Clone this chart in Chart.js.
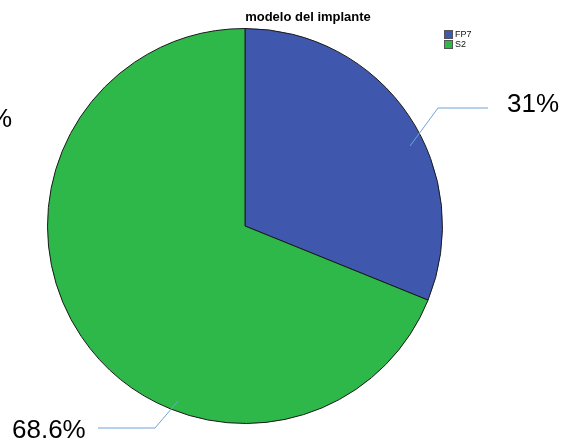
<!DOCTYPE html>
<html>
<head>
<meta charset="utf-8">
<script src="https://cdn.jsdelivr.net/npm/chart.js@4"></script>
<style>
  html, body { margin: 0; padding: 0; background: #fff; }
  #wrap { width: 563px; height: 443px; position: relative; }
</style>
</head>
<body>
<div id="wrap"><canvas id="pieCanvas"></canvas></div>
<script>
const categories = ['FP7', 'S2'];
const percents = [31, 68.6];
const labelTexts = ['31%', '68.6%'];
const sliceColors = ['#3F58AD', '#2EB84A'];

// titles, legend and leader lines drawn on top of the pie
const annotations = {
    id: 'annotations',
    afterDraw(chart) {
        const ctx = chart.ctx;
        const arcs = chart.getDatasetMeta(0).data;
        const cx = arcs[0].x;
        const cy = arcs[0].y;
        ctx.save();

        ctx.fillStyle = '#000';
        ctx.font = 'bold 13px "Liberation Sans", Arial, sans-serif';
        ctx.textAlign = 'center';
        ctx.textBaseline = 'middle';
        ctx.fillText('modelo del implante', 308, 17);

        // legend
        ctx.font = '9px "Liberation Sans", Arial, sans-serif';
        ctx.textAlign = 'left';
        categories.forEach((name, i) => {
            const y = 31 + i * 10;
            ctx.fillStyle = sliceColors[i];
            ctx.fillRect(445, y, 7, 7);
            ctx.strokeStyle = '#555';
            ctx.lineWidth = 1;
            ctx.strokeRect(444.5, y - 0.5, 8, 8);
            ctx.fillStyle = '#111';
            ctx.fillText(name, 455, y + 4);
        });

        // leader lines
        ctx.strokeStyle = '#6FA3DA';
        ctx.lineWidth = 1;
        ctx.beginPath();
        ctx.moveTo(cx + 165, cy - 80);
        ctx.lineTo(cx + 193, cy - 118);
        ctx.lineTo(cx + 243, cy - 118);
        ctx.moveTo(cx - 67, cy + 175);
        ctx.lineTo(cx - 90, cy + 202);
        ctx.lineTo(cx - 147, cy + 202);
        ctx.stroke();

        ctx.fillStyle = '#000';
        ctx.font = '26px "Liberation Sans", Arial, sans-serif';
        ctx.textBaseline = 'middle';
        ctx.textAlign = 'left';
        ctx.fillText(labelTexts[0], 507, 105);
        ctx.fillText(labelTexts[1], 12, 431);
        // cut-off label at the left edge
        ctx.fillText('%', -11, 120);
        ctx.restore();
    }
};

document.addEventListener('DOMContentLoaded', () => {
    const ctx = document.getElementById('pieCanvas').getContext('2d');
    new Chart(ctx, {
        type: 'pie',
        data: {
            labels: categories,
            datasets: [{
                data: percents,
                backgroundColor: sliceColors,
                borderColor: '#1a1a1a',
                borderWidth: 1
            }]
        },
        options: {
            responsive: true,
            maintainAspectRatio: false,
            animation: false,
            layout: {
                padding: { left: 47, right: 120, top: 28, bottom: 19 }
            },
            plugins: {
                legend: { display: false },
                title: { display: false },
                tooltip: { enabled: false }
            }
        },
        plugins: [annotations]
    });
});
</script>
</body>
</html>
